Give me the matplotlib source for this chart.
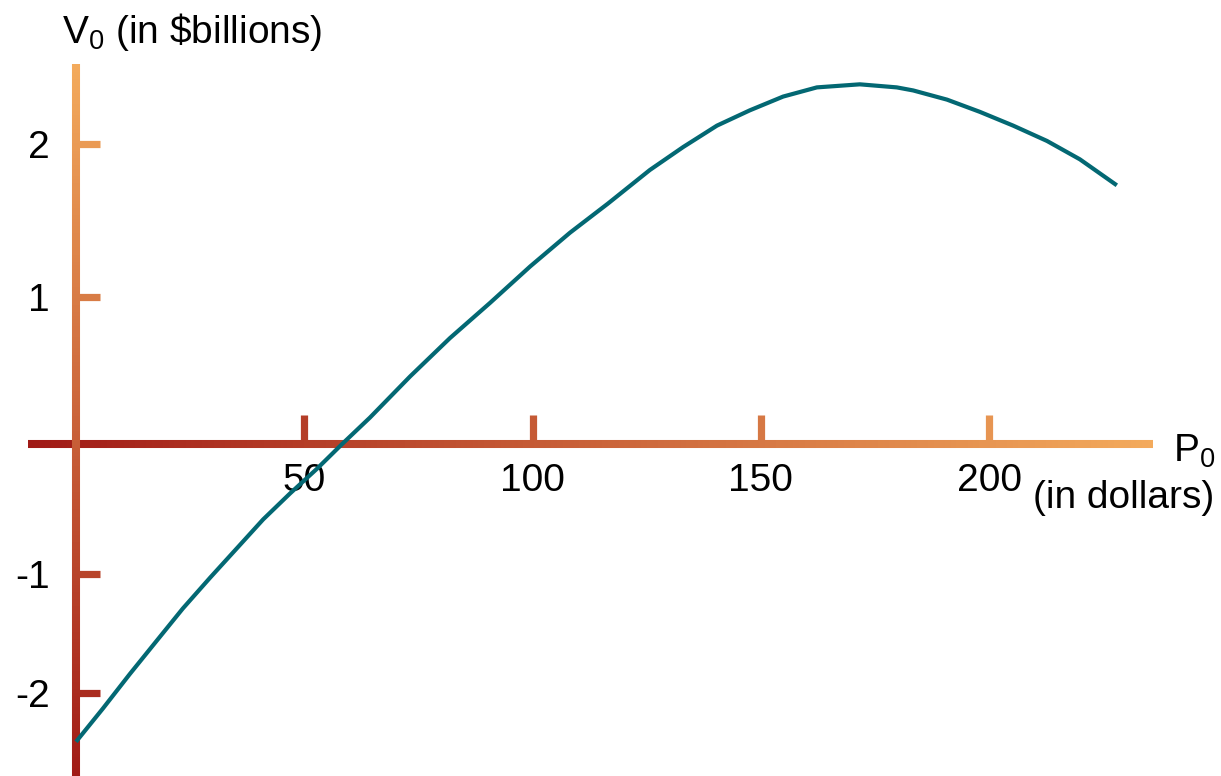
import numpy as np
import matplotlib.pyplot as plt
from matplotlib.collections import LineCollection
from matplotlib.colors import LinearSegmentedColormap

plt.rcParams['font.family'] = ['Liberation Sans', 'DejaVu Sans']
plt.rcParams['mathtext.fontset'] = 'custom'
plt.rcParams['mathtext.rm'] = 'Liberation Sans'

# data
price = [0, 5.9, 11.8, 17.7, 23.4, 29.4, 35.3, 41.0, 46.9, 52.8, 58.3, 64.4,
         73.2, 81.9, 90.7, 99.5, 108.2, 116.5, 125.7, 133.0, 140.4, 147.6, 154.9,
         162.3, 171.7, 179.8, 183.4, 190.8, 198.0, 205.3, 212.7, 219.9, 228.0]  # P0 in dollars
value = [-2.41, -2.13, -1.84, -1.56, -1.29, -1.03, -0.80, -0.58, -0.38, -0.19, 0.0, 0.18,
         0.46, 0.72, 0.96, 1.20, 1.42, 1.61, 1.83, 1.98, 2.12, 2.22, 2.31,
         2.37, 2.39, 2.37, 2.35, 2.29, 2.21, 2.12, 2.02, 1.90, 1.73]  # V0 in $billions
x_ticks = [50, 100, 150, 200]
y_ticks = [-2, -1, 1, 2]

# the original drawing is not evenly spaced on the y axis, so a piecewise scale
y_knots = [-4, -2, -1, 0, 1, 2, 4]
y_pos = [-487, -249, -130, 0, 147, 300, 606]
def y_fwd(v):
    return np.interp(v, y_knots, y_pos)
def y_inv(p):
    return np.interp(p, y_pos, y_knots)

W, H = 1221, 776
fig = plt.figure(figsize=(W / 100, H / 100), dpi=100)
ax = fig.add_axes([0, 0, 1, 1])
ax.set_yscale('function', functions=(y_fwd, y_inv))
px = 4.565  # pixels per dollar
ax.set_xlim(-76 / px, (W - 76) / px)
ax.set_ylim(y_inv(-332), y_inv(444))

cmap = LinearSegmentedColormap.from_list('axis', ['#a01a16', '#f3aa5c'])

# gradient axis lines
x0, x1 = -10.5, 236.0
y0, y1 = -2.75, 2.52
n = 200
xs = np.linspace(x0, x1, n + 1)
segs = [[(xs[i], 0), (xs[i + 1], 0)] for i in range(n)]
lc = LineCollection(segs, colors=cmap(np.linspace(0, 1, n)), linewidths=5.8, capstyle='butt', zorder=2)
ax.add_collection(lc)
ys = y_inv(np.linspace(y_fwd(y0), y_fwd(y1), n + 1))
segs = [[(0, ys[i]), (0, ys[i + 1])] for i in range(n)]
lc = LineCollection(segs, colors=cmap(np.linspace(0, 1, n)), linewidths=5.8, capstyle='butt', zorder=2)
ax.add_collection(lc)

# ticks sit on the axis lines
for s in ax.spines.values():
    s.set_visible(False)
ax.spines['bottom'].set_position(('data', 0))
ax.spines['left'].set_position(('data', 0))
ax.set_xticks(x_ticks)
ax.set_yticks(y_ticks)
ax.set_xticklabels([str(t) for t in x_ticks])
ax.set_yticklabels([str(t) for t in y_ticks])
ax.tick_params(axis='x', direction='in', length=21, width=5.2, pad=14, labelsize=28)
ax.tick_params(axis='y', direction='in', length=17.5, width=5.2, pad=19, labelsize=28)
for t, v in zip(ax.xaxis.get_major_ticks(), x_ticks):
    t.tick1line.set_markeredgecolor(cmap((v - x0) / (x1 - x0)))
for t, v in zip(ax.yaxis.get_major_ticks(), y_ticks):
    t.tick1line.set_markeredgecolor(cmap((y_fwd(v) - y_fwd(y0)) / (y_fwd(y1) - y_fwd(y0))))

ax.plot(price, value, color='#036873', linewidth=3, zorder=4, solid_capstyle='butt', solid_joinstyle='round')

# axis titles
fig.text(62 / W, 1 - 43 / H, r'V$_{\rm 0}$ (in \$billions)', fontsize=28, va='baseline', ha='left')
fig.text(1173 / W, 1 - 462 / H, r'P$_{\rm 0}$', fontsize=28, va='baseline', ha='left')
fig.text(1214 / W, 1 - 508 / H, '(in dollars)', fontsize=28, va='baseline', ha='right')

plt.savefig('out.png', dpi=100)
